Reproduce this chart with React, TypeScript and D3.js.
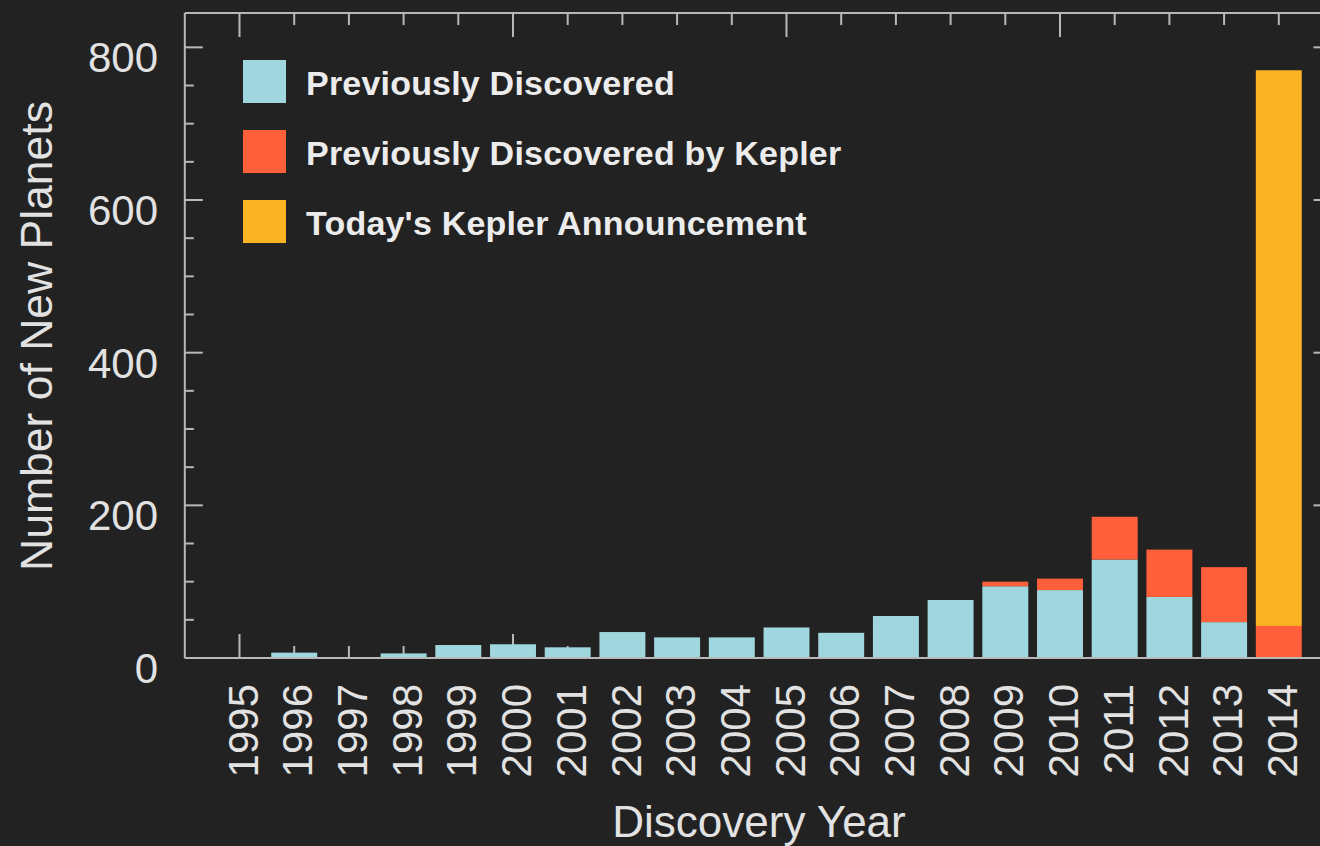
import * as React from "react";
import * as d3 from "d3";

const years = [
  1995, 1996, 1997, 1998, 1999, 2000, 2001, 2002, 2003, 2004,
  2005, 2006, 2007, 2008, 2009, 2010, 2011, 2012, 2013, 2014,
];
const previouslyDiscovered = [
  1, 7, 1, 6, 17, 18, 14, 34, 27, 27, 40, 33, 55, 76, 94, 89, 129, 80, 47, 0,
];
const previouslyKepler = [
  0, 0, 0, 0, 0, 0, 0, 0, 0, 0, 0, 0, 0, 0, 6, 15, 56, 62, 72, 42,
];
const todaysKepler = [
  0, 0, 0, 0, 0, 0, 0, 0, 0, 0, 0, 0, 0, 0, 0, 0, 0, 0, 0, 728,
];
const seriesNames = [
  "Previously Discovered",
  "Previously Discovered by Kepler",
  "Today's Kepler Announcement",
];
const seriesColors = ["#a0d7de", "#ff5f3a", "#fcb424"];
const yTicks = [0, 200, 400, 600, 800];

const W = 1320;
const H = 846;
const FONT = "'Liberation Sans', Arial, Helvetica, sans-serif";
const BG = "#222222";
const AXIS = "#b8b8b8";
const TEXT = "#e2e2e2";

export default function App() {
  // year axis runs from 1994 to 2015, the right frame edge falls outside the picture
  const x = d3.scaleLinear().domain([1994, 2015]).range([184.8, 1333.5]);
  const y = d3.scaleLinear().domain([0, 845]).range([658, 13]);
  const barW = (x(1) - x(0)) * 0.84;

  const table = years.map((yr, i) => ({
    year: yr,
    a: previouslyDiscovered[i],
    b: previouslyKepler[i],
    c: todaysKepler[i],
  }));
  const stacked = d3.stack<any>().keys(["a", "b", "c"])(table);

  const minorY = d3.range(0, 846, 50).filter((v) => v % 200 !== 0);
  const x0 = x(1994);
  const x1 = x(2015);

  return (
    <div>
      <style>{`body{margin:0;background:${BG};}`}</style>
      <svg width={W} height={H} style={{ display: "block", background: BG }}>
        <rect width={W} height={H} fill={BG} />

        {/* x ticks on bottom and top, drawn under the bars */}
        {years.map((yr) => {
          const len = yr % 5 === 0 ? 24 : 12;
          return (
            <g key={yr} stroke={AXIS} strokeWidth={2}>
              <line x1={x(yr)} x2={x(yr)} y1={y(0)} y2={y(0) - len} />
              <line x1={x(yr)} x2={x(yr)} y1={y(845)} y2={y(845) + len} />
            </g>
          );
        })}

        {/* bars */}
        {stacked.map((layer, k) => (
          <g key={k} fill={seriesColors[k]}>
            {layer.map((d, i) =>
              d[1] - d[0] > 0 ? (
                <rect
                  key={i}
                  x={x(years[i]) - barW / 2}
                  y={y(d[1])}
                  width={barW}
                  height={y(d[0]) - y(d[1])}
                />
              ) : null
            )}
          </g>
        ))}

        {/* frame */}
        <g stroke={AXIS} strokeWidth={2} fill="none">
          <line x1={x0} x2={x0} y1={y(845)} y2={y(0)} />
          <line x1={x0} x2={x1} y1={y(0)} y2={y(0)} />
          <line x1={x0} x2={x1} y1={y(845)} y2={y(845)} />
          <line x1={x1} x2={x1} y1={y(845)} y2={y(0)} />
          {yTicks.map((v) => (
            <g key={v}>
              <line x1={x0} x2={x0 + 18} y1={y(v)} y2={y(v)} />
              <line x1={x1} x2={x1 - 20} y1={y(v)} y2={y(v)} />
            </g>
          ))}
          {minorY.map((v) => (
            <g key={v}>
              <line x1={x0} x2={x0 + 9} y1={y(v)} y2={y(v)} />
              <line x1={x1} x2={x1 - 9} y1={y(v)} y2={y(v)} />
            </g>
          ))}
        </g>

        {/* y tick labels */}
        {yTicks.map((v) => (
          <text
            key={v}
            x={158}
            y={y(v) + 25}
            textAnchor="end"
            fontFamily={FONT}
            fontSize={42}
            fill={TEXT}
          >
            {v}
          </text>
        ))}

        {/* x tick labels */}
        {years.map((yr) => (
          <text
            key={yr}
            transform={`translate(${x(yr) + 3},684) rotate(-90)`}
            textAnchor="end"
            dy="0.36em"
            fontFamily={FONT}
            fontSize={42}
            fill={TEXT}
          >
            {yr}
          </text>
        ))}

        {/* axis titles */}
        <text
          x={759}
          y={837}
          textAnchor="middle"
          fontFamily={FONT}
          fontSize={44}
          fill={TEXT}
        >
          Discovery Year
        </text>
        <text
          transform="translate(52,336) rotate(-90)"
          textAnchor="middle"
          fontFamily={FONT}
          fontSize={44.5}
          fill={TEXT}
        >
          Number of New Planets
        </text>

        {/* legend */}
        {seriesNames.map((name, i) => (
          <g key={name} transform={`translate(243,${60 + i * 70})`}>
            <rect width={43} height={43} fill={seriesColors[i]} />
            <text
              x={63}
              y={35}
              fontFamily={FONT}
              fontWeight="bold"
              fontSize={34}
              letterSpacing={0.2}
              fill="#ececec"
            >
              {name}
            </text>
          </g>
        ))}
      </svg>
    </div>
  );
}
